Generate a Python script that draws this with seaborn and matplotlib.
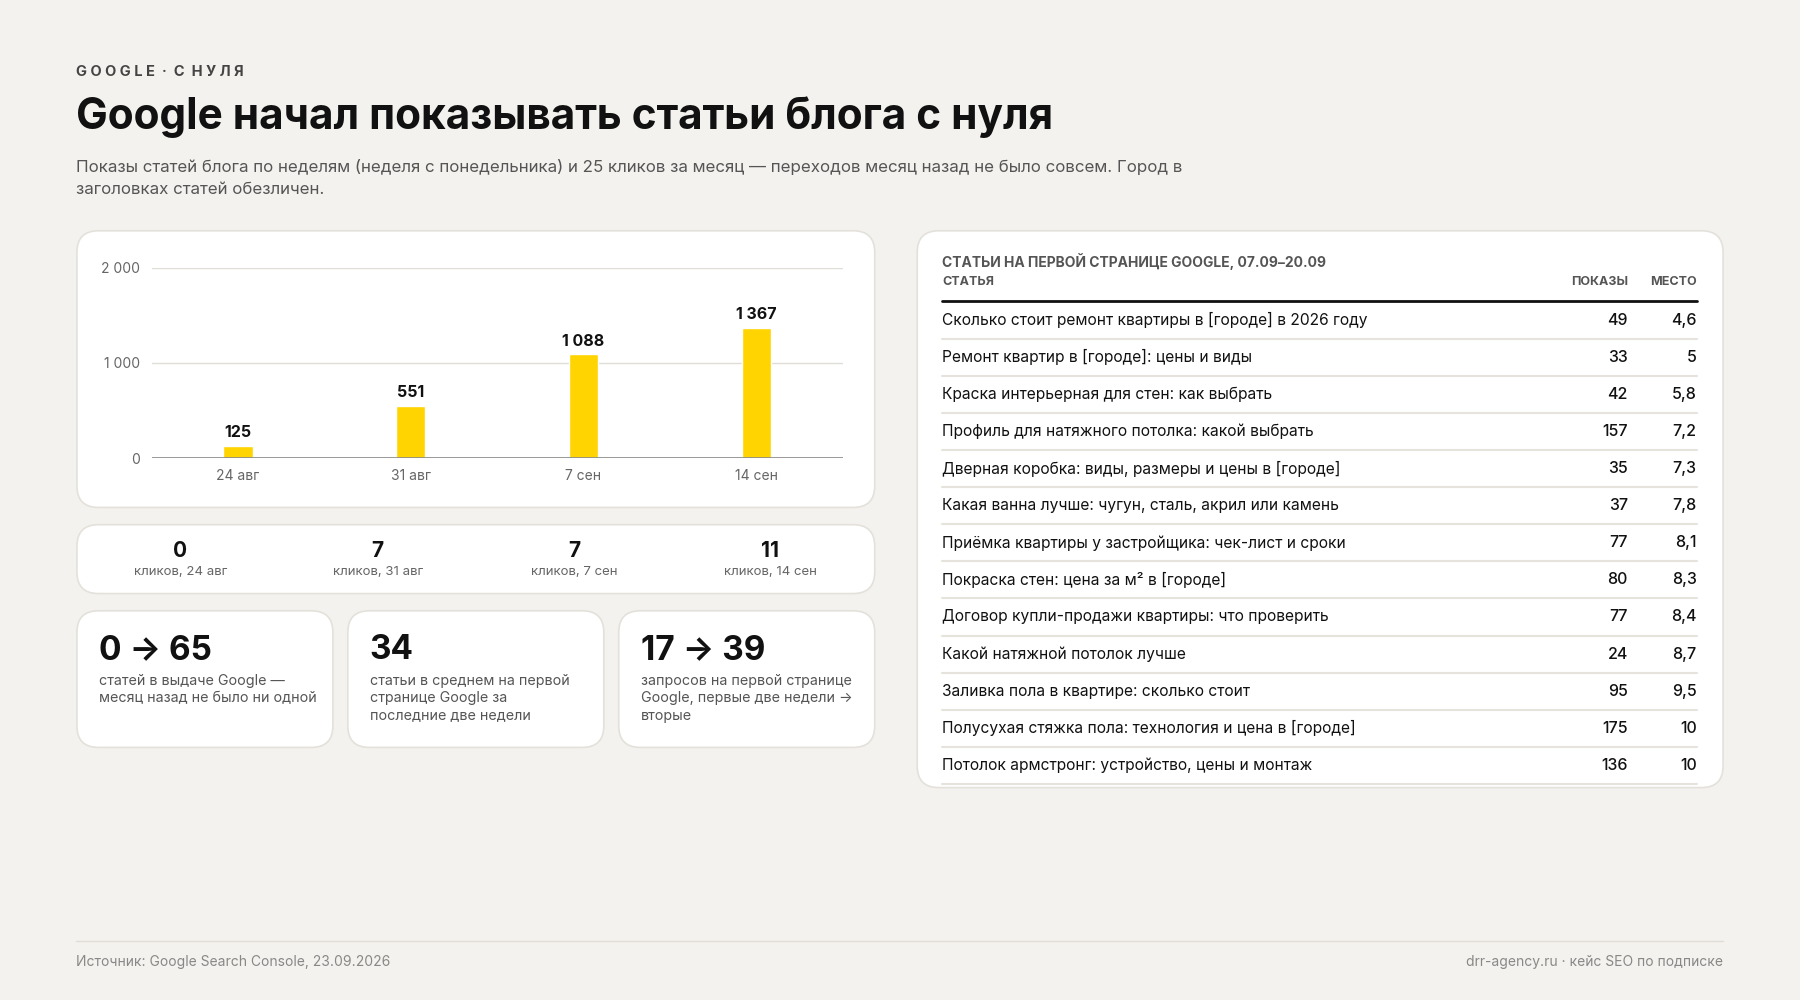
import matplotlib
matplotlib.use("Agg")
import matplotlib.pyplot as plt
from matplotlib.patches import FancyBboxPatch
import seaborn as sns
import pandas as pd

weeks = ["24 авг", "31 авг", "7 сен", "14 сен"]
impressions = [125, 551, 1088, 1367]
clicks = [0, 7, 7, 11]
click_labels = ["кликов, 24 авг", "кликов, 31 авг", "кликов, 7 сен", "кликов, 14 сен"]
kpi_values = ["0 → 65", "34", "17 → 39"]
kpi_texts = ["статей в выдаче Google —\nмесяц назад не было ни одной",
             "статьи в среднем на первой\nстранице Google за\nпоследние две недели",
             "запросов на первой странице\nGoogle, первые две недели →\nвторые"]
articles = ["Сколько стоит ремонт квартиры в [городе] в 2026 году",
            "Ремонт квартир в [городе]: цены и виды",
            "Краска интерьерная для стен: как выбрать",
            "Профиль для натяжного потолка: какой выбрать",
            "Дверная коробка: виды, размеры и цены в [городе]",
            "Какая ванна лучше: чугун, сталь, акрил или камень",
            "Приёмка квартиры у застройщика: чек-лист и сроки",
            "Покраска стен: цена за м² в [городе]",
            "Договор купли-продажи квартиры: что проверить",
            "Какой натяжной потолок лучше",
            "Заливка пола в квартире: сколько стоит",
            "Полусухая стяжка пола: технология и цена в [городе]",
            "Потолок армстронг: устройство, цены и монтаж"]
art_impr = [49, 33, 42, 157, 35, 37, 77, 80, 77, 24, 95, 175, 136]
art_pos = ["4,6", "5", "5,8", "7,2", "7,3", "7,8", "8,1", "8,3", "8,4", "8,7", "9,5", "10", "10"]

sns.set_theme(style="white")
plt.rcParams['font.family'] = ['Inter', 'DejaVu Sans']

BG = "#f4f2ee"
YEL = "#ffd400"
W, H = 1568, 871
fig = plt.figure(figsize=(18, 10), dpi=100, facecolor=BG)

def fx(x): return x / W
def fy(y): return 1 - y / H

def card(x0, y0, x1, y1):
    p = FancyBboxPatch((fx(x0), fy(y1)), fx(x1) - fx(x0), fy(y0) - fy(y1),
                       boxstyle="round,pad=0,rounding_size=0.012", transform=fig.transFigure,
                       facecolor="white", edgecolor="#e4e1db", linewidth=1.2, zorder=-5,
                       mutation_aspect=W / H)
    fig.patches.append(p)

def nfmt(v):
    return f"{v:,}".replace(",", " ")

fig.text(fx(66), fy(63), "G O O G L E  ·  С  Н У Л Я", fontsize=10.5, fontweight="bold", color="#444", va="center")
fig.text(fx(66), fy(102), "Google начал показывать статьи блога с нуля", fontsize=30.5, fontweight="bold",
         color="#111", va="center")
fig.text(fx(66), fy(155), "Показы статей блога по неделям (неделя с понедельника) и 25 кликов за месяц — переходов месяц назад не было совсем. Город в\nзаголовках статей обезличен.",
         fontsize=12.2, color="#555", va="center", linespacing=1.55)

# chart card
card(67, 201, 762, 442)
ax = fig.add_axes([fx(132), fy(399), fx(734) - fx(132), fy(233) - fy(399)])
ax.set_zorder(5)
df = pd.DataFrame({"week": weeks, "impr": impressions})
sns.barplot(data=df, x="week", y="impr", color=YEL, width=0.17, ax=ax, zorder=3, saturation=1)
ax.set_ylim(0, 2000)
ax.set_xlim(-0.5, 3.5)
ax.set_yticks([0, 1000, 2000])
ax.set_yticklabels(["0", "1 000", "2 000"])
ax.patch.set_visible(False)
for s in ax.spines.values():
    s.set_visible(False)
ax.axhline(0, color="#888", lw=1.2, zorder=4)
for y in [1000, 2000]:
    ax.axhline(y, color="#e0ddd6", lw=1, zorder=1)
ax.tick_params(axis="both", length=0, labelsize=10, labelcolor="#666", pad=8)
ax.set_xlabel(""); ax.set_ylabel("")
for i, v in enumerate(impressions):
    ax.text(i, v + 60, nfmt(v), ha="center", va="bottom", fontsize=11.5, fontweight="bold", color="#111")

# clicks card
card(67, 457, 762, 517)
cx = [157, 329, 500, 671]
for x, c, l in zip(cx, clicks, click_labels):
    fig.text(fx(x), fy(480), str(c), ha="center", va="center", fontsize=15, fontweight="bold", color="#111")
    fig.text(fx(x), fy(498), l, ha="center", va="center", fontsize=9.5, color="#666")

# KPI cards
for (x0, x1), v, t in zip([(67, 290), (303, 526), (539, 762)], kpi_values, kpi_texts):
    card(x0, 532, x1, 651)
    fig.text(fx(x0 + 19), fy(566), v, fontsize=24, fontweight="bold", color="#111", va="center")
    fig.text(fx(x0 + 19), fy(587), t, fontsize=10.3, color="#555", va="top", linespacing=1.3)

# table card
card(799, 201, 1501, 686)
fig.text(fx(821), fy(228), "СТАТЬИ НА ПЕРВОЙ СТРАНИЦЕ GOOGLE, 07.09–20.09", fontsize=10, fontweight="bold",
         color="#555", va="center")
fig.text(fx(821), fy(246), "СТАТЬЯ", fontsize=9, fontweight="bold", color="#555", va="center")
fig.text(fx(1418), fy(246), "ПОКАЗЫ", fontsize=9, fontweight="bold", color="#555", va="center", ha="right")
fig.text(fx(1478), fy(246), "МЕСТО", fontsize=9, fontweight="bold", color="#555", va="center", ha="right")
fig.add_artist(plt.Line2D([fx(821), fx(1478)], [fy(262), fy(262)], color="#111", lw=2, transform=fig.transFigure))
step = 32.3
for i, (a, n, p) in enumerate(zip(articles, art_impr, art_pos)):
    y = 279 + step * i
    fig.text(fx(821), fy(y), a, fontsize=11.2, color="#111", va="center")
    fig.text(fx(1418), fy(y), str(n), fontsize=11.5, color="#111", va="center", ha="right", fontweight="medium")
    fig.text(fx(1478), fy(y), p, fontsize=11.5, color="#111", va="center", ha="right", fontweight="medium")
    yl = y + step / 2
    fig.add_artist(plt.Line2D([fx(821), fx(1478)], [fy(yl), fy(yl)], color="#e6e3dd", lw=1.5,
                              transform=fig.transFigure))

# footer
fig.add_artist(plt.Line2D([fx(66), fx(1501)], [fy(820), fy(820)], color="#e0ddd6", lw=1, transform=fig.transFigure))
fig.text(fx(66), fy(838), "Источник: Google Search Console, 23.09.2026", fontsize=10, color="#888", va="center")
fig.text(fx(1501), fy(838), "drr-agency.ru · кейс SEO по подписке", fontsize=10, color="#888", va="center", ha="right")

fig.savefig("out.png", dpi=100, facecolor=BG)
